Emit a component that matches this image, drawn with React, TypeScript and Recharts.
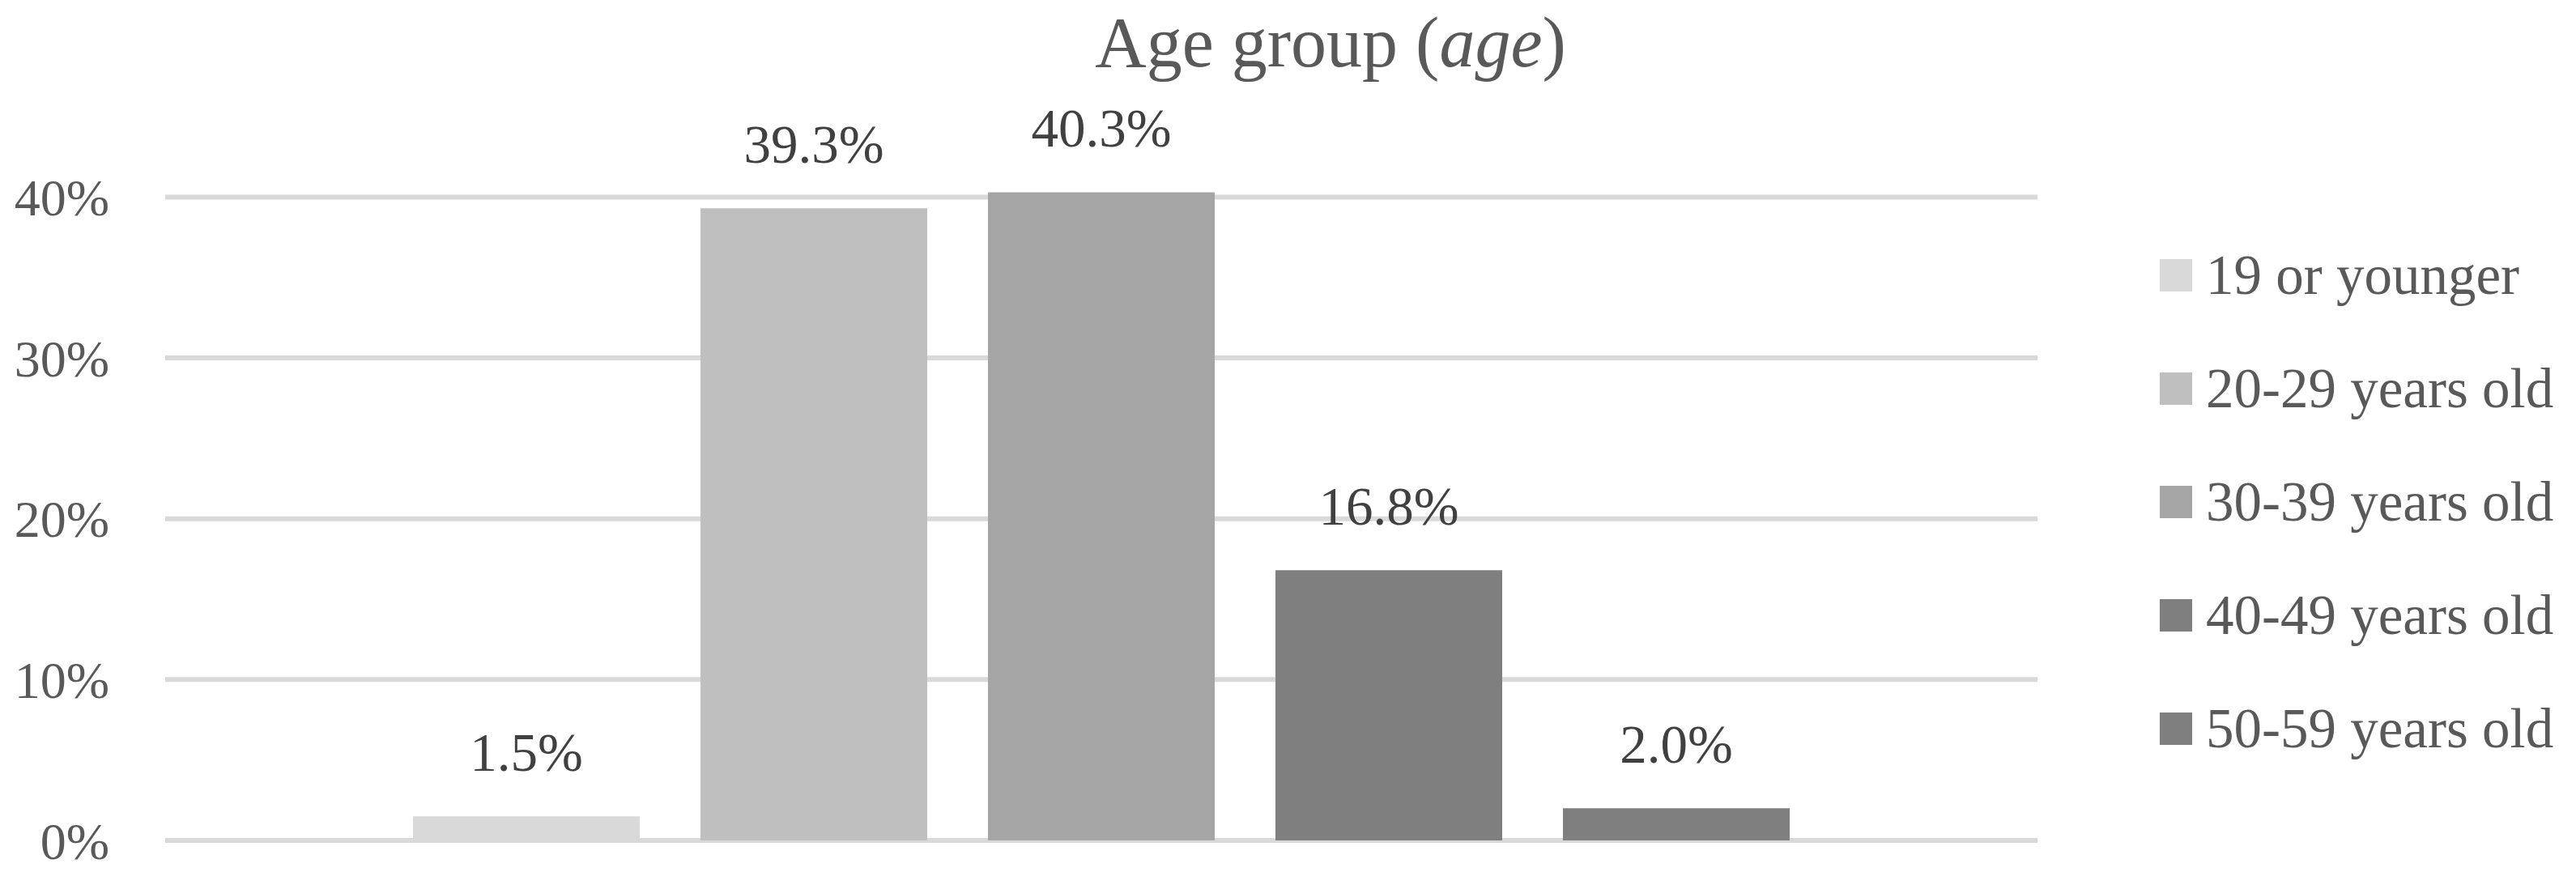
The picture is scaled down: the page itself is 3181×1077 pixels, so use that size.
import React from 'react'
import { BarChart, Bar, XAxis, YAxis, CartesianGrid, Legend, LabelList } from 'recharts'

const FONT = "'Palatino Linotype', 'Book Antiqua', Palatino, 'Liberation Serif', serif"

const AGE_GROUPS = ['19 or younger', '20-29 years old', '30-39 years old', '40-49 years old', '50-59 years old']
const SHARES = [1.5, 39.3, 40.3, 16.8, 2.0]
const COLORS = ['#d9d9d9', '#bfbfbf', '#a5a5a5', '#7f7f7f', '#7f7f7f']
const Y_TICKS = [0, 10, 20, 30, 40]

// one category, one bar per age group (Excel-style clustered chart)
const row: Record<string, string | number> = { name: 'age' }
AGE_GROUPS.forEach((g, i) => {
  row[`g${i}`] = SHARES[i]
})
const chartData = [row]

function renderLegend(props: any) {
  const items = props.payload ?? []
  return (
    <div style={{ fontFamily: FONT }}>
      {items.map((it: any) => (
        <div key={it.value} style={{ display: 'flex', alignItems: 'center', height: 140 }}>
          <span style={{ width: 40, height: 40, background: it.color, marginRight: 17, display: 'inline-block' }} />
          <span style={{ fontSize: 69, lineHeight: 1, color: '#595959', whiteSpace: 'nowrap' }}>{it.value}</span>
        </div>
      ))}
    </div>
  )
}

export default function App() {
  return (
    <div style={{ position: 'absolute', left: 0, top: 0, width: 3181, height: 1077, background: '#fff' }}>
      <svg width={3181} height={120} style={{ position: 'absolute', left: 0, top: 0 }}>
        <text x={1643} y={82} textAnchor="middle" fontFamily={FONT} fontSize={88} fill="#595959">
          Age group (<tspan fontStyle="italic">age</tspan>)
        </text>
      </svg>
      <BarChart
        width={3181}
        height={1077}
        data={chartData}
        margin={{ top: 164, right: 665, bottom: 39, left: 0 }}
        barSize={280}
        barGap={75}
      >
        <CartesianGrid vertical={false} horizontalValues={Y_TICKS} stroke="#d9d9d9" strokeWidth={6} />
        <XAxis dataKey="name" hide />
        <YAxis
          width={204}
          domain={[0, 44]}
          ticks={Y_TICKS}
          interval={0}
          axisLine={false}
          tickLine={false}
          tickSize={0}
          tickMargin={69}
          tickFormatter={(v) => `${v}%`}
          tick={{ fill: '#595959', fontSize: 64, fontFamily: FONT }}
        />
        <Legend
          layout="horizontal"
          align="center"
          verticalAlign="middle"
          width={514}
          wrapperStyle={{ left: 2667, top: 270, width: 514 }}
          content={renderLegend}
        />
        {AGE_GROUPS.map((g, i) => (
          <Bar key={g} dataKey={`g${i}`} name={g} fill={COLORS[i]} isAnimationActive={false}>
            <LabelList
              dataKey={`g${i}`}
              position="top"
              offset={56}
              formatter={(v: any) => `${Number(v).toFixed(1)}%`}
              fill="#404040"
              fontSize={67}
              fontFamily={FONT}
            />
          </Bar>
        ))}
      </BarChart>
    </div>
  )
}
